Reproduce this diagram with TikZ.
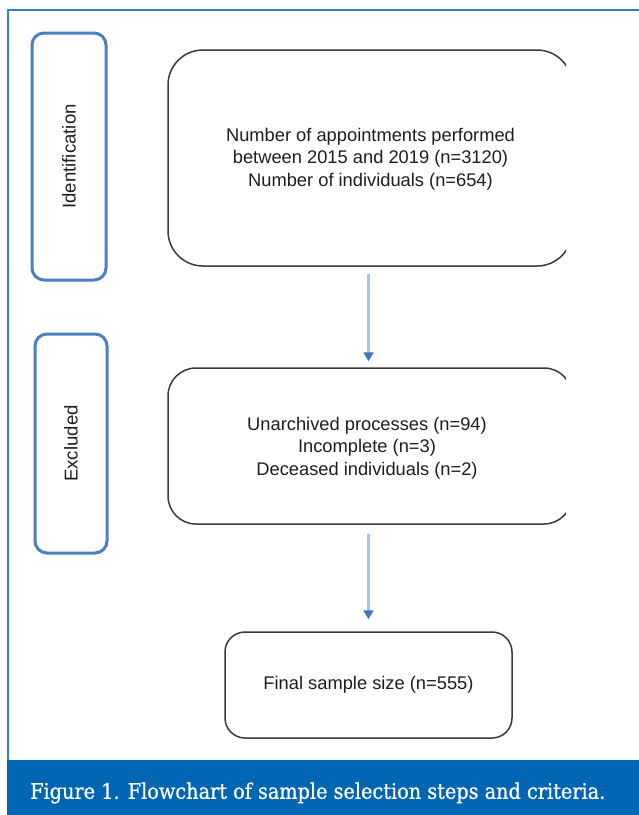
\documentclass[tikz,border=0pt]{standalone}
\usepackage{fontspec}
\setmainfont{Liberation Sans}
\newfontfamily\capfont[FakeBold=0.7]{DejaVu Serif Condensed}
\usetikzlibrary{arrows.meta,calc}
\definecolor{framecol}{HTML}{2F7FCF}
\definecolor{barcol}{HTML}{0066B3}
\definecolor{labcol}{HTML}{4A7FC1}
\definecolor{boxcol}{HTML}{3A3A3A}
\definecolor{txtcol}{HTML}{1E1E1E}
\definecolor{arrlight}{HTML}{A9C1E8}
\definecolor{arrdark}{HTML}{4472C4}
\tikzset{
  lab/.style={draw=labcol, line width=3pt, rounded corners=12pt, inner sep=0pt},
  stepbox/.style={draw=boxcol, line width=1.5pt, inner sep=0pt, text=txtcol, align=center,
    font=\fontsize{18.3}{22.5}\selectfont},
  flow/.style={draw=arrlight, line width=2.3pt,
    -{Triangle[width=10pt,length=9pt,color=arrdark]}},
}
\begin{document}
\begin{tikzpicture}[x=1pt,y=-1pt]
\useasboundingbox (0,0) rectangle (639,815);
\fill[white] (0,0) rectangle (639,815);
% frame
\draw[framecol, line width=1.5pt] (639,10) -- (8,10) -- (8,762);
\fill[barcol] (7.25,760) rectangle (639,815);
\node[anchor=west, text=white, inner sep=0pt] (cap) at (30,793)
  {\resizebox{575pt}{!}{\capfont Figure 1. Flowchart of sample selection steps and criteria.}};
% side labels
\node[lab, minimum width=74pt, minimum height=247pt] (idl) at (69,156.5) {};
\node[rotate=90, text=txtcol, font=\fontsize{18.6}{22}\selectfont] (idt) at (idl.center) {Identification};
\node[lab, minimum width=72pt, minimum height=219pt] (exl) at (71,443.5) {};
\node[rotate=90, text=txtcol, font=\fontsize{18.6}{22}\selectfont] (ext) at (exl.center) {Excluded};
% step boxes
\begin{scope}
\clip (0,0) rectangle (566,815);
\node[stepbox, rounded corners=35pt, minimum width=404pt, minimum height=216pt] (b1) at (370,158) {};
\node[stepbox, rounded corners=28pt, minimum width=404pt, minimum height=156pt] (b2) at (370,446) {};
\end{scope}
\node[stepbox, draw=none] (t1) at (370.5,159) {Number of appointments performed\\between 2015 and 2019 (n=3120)\\Number of individuals (n=654)};
\node[stepbox, draw=none] (t2) at (367,448) {Unarchived processes (n=94)\\Incomplete (n=3)\\Deceased individuals (n=2)};
\node[stepbox, rounded corners=20pt, minimum width=287pt, minimum height=106pt] (b3) at (368.5,685)
  {Final sample size (n=555)};
% arrows
\draw[flow, shorten <=7pt, shorten >=6pt] (b1.south -| b3.north) -- (b2.north -| b3.north);
\draw[flow, shorten <=9pt, shorten >=12pt] (b2.south -| b3.north) -- (b3.north);
\end{tikzpicture}
\end{document}
